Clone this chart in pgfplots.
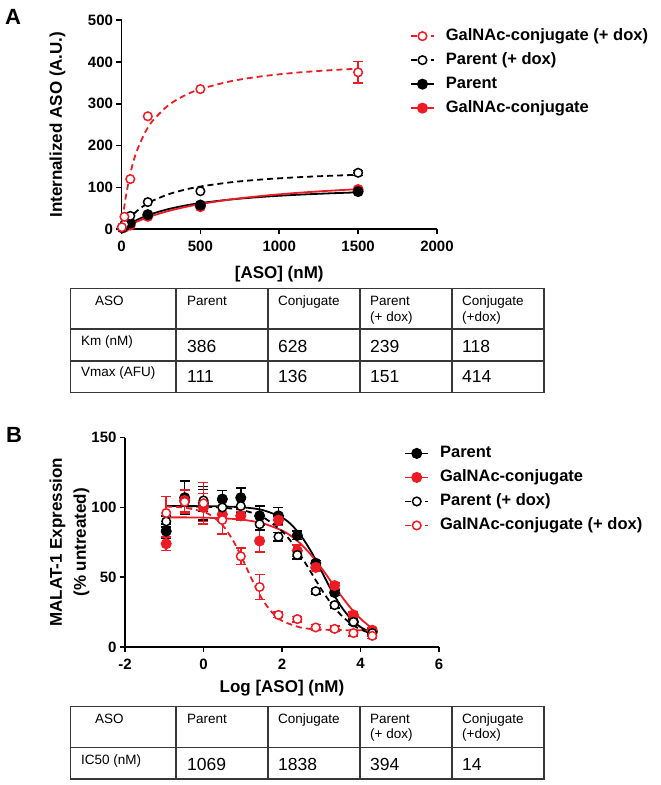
\documentclass[border=0pt]{standalone}
\usepackage{pgfplots}
\pgfplotsset{compat=1.18}
\usepackage{fontspec}
\setmainfont{Liberation Sans}
\definecolor{gred}{RGB}{237,28,36}
\definecolor{tline}{RGB}{55,55,55}
\newcommand{\fs}[1]{\fontsize{#1}{#1}\selectfont}

\pgfplotsset{
  prism/.style={
    scale only axis, anchor=south west,
    axis lines=left,
    axis line style={line width=1.6pt, -},
    every tick/.style={line width=1.6pt, black},
    tick align=outside,
    major tick length=5pt,
    tick label style={font=\fs{15}\bfseries},
    xticklabel style={yshift=-3pt},
    /pgf/number format/assume math mode=true,
    /pgf/number format/set thousands separator={},
    label style={font=\fontsize{17}{24}\selectfont\bfseries},
    enlargelimits=false, clip=false,
    legend style={draw=none, fill=none, anchor=north west, font=\fs{16.5}\bfseries,
      inner sep=0pt, row sep=8pt, column sep=11pt, cells={anchor=west},
      nodes={inner sep=0pt, text height=12pt, text depth=4pt}},
    legend image code/.code={\draw[##1, mark repeat=2, mark phase=2]
      plot coordinates {(0pt,0pt) (11.5pt,0pt) (23pt,0pt)};},
  },
  fil/.style={line width=1.8pt, mark=*, mark size=4.6pt, mark options={solid}},
  opn/.style={line width=1.8pt, dash pattern=on 6pt off 4pt, mark=*, mark size=4.3pt,
    mark options={solid, fill=white, line width=1.5pt}},
  curve/.style={no marks, line width=1.8pt, smooth},
  eb/.style={error bars/y dir=both, error bars/y explicit,
    error bars/error bar style={line width=1.5pt, solid},
    error bars/error mark options={rotate=90, mark size=5pt, line width=1.5pt, solid}},
}

\begin{document}
\begin{tikzpicture}[x=1pt,y=1pt]
\useasboundingbox (0,0) rectangle (661,785);

\node[font=\fs{22}\bfseries] at (13,768) {A};
\node[font=\fs{22}\bfseries] at (14,350) {B};

% ---------------- panel A ----------------
\begin{axis}[prism, at={(121.5pt,555.7pt)}, width=315.5pt, height=209.3pt,
  xmin=0, xmax=2000, ymin=0, ymax=500,
  xtick={0,500,1000,1500,2000}, ytick={0,100,200,300,400,500},
  xlabel={[ASO] (nM)}, ylabel={Internalized ASO (A.U.)},
  xlabel style={at={(axis description cs:0.5,-0.215)}, anchor=center},
  ylabel style={at={(axis description cs:-0.203,0.5)}, anchor=center},
  legend style={at={(axis description cs:0.914,0.962)}},
]
\addlegendimage{gred, opn}\addlegendentry{GalNAc-conjugate (+ dox)}
\addlegendimage{black, opn}\addlegendentry{Parent (+ dox)}
\addlegendimage{black, fil}\addlegendentry{Parent}
\addlegendimage{gred, fil}\addlegendentry{GalNAc-conjugate}

% fitted curves
\addplot[forget plot, curve, gred, dash pattern=on 6pt off 4pt] coordinates {
 (0,0) (10,32.3) (25,72.4) (50,123.2) (75,160.9) (100,189.9) (150,231.7) (200,260.4)
 (300,297.1) (400,319.7) (500,335.0) (700,354.3) (900,366.0) (1100,373.9) (1300,379.5) (1500,383.8)};
\addplot[forget plot, curve, black, dash pattern=on 6pt off 4pt] coordinates {
 (0,0) (25,14.3) (50,26.1) (100,44.5) (150,58.2) (200,68.8) (300,84.0) (400,94.5)
 (500,102.2) (700,112.6) (900,119.3) (1100,124.0) (1300,127.5) (1500,130.2)};
\addplot[forget plot, curve, black] coordinates {
 (0,0) (25,6.8) (50,12.7) (100,22.8) (150,31.1) (200,37.9) (300,48.5) (400,56.5)
 (500,62.6) (700,71.5) (900,77.7) (1100,82.2) (1300,85.6) (1500,88.3)};
\addplot[forget plot, curve, gred] coordinates {
 (0,0) (25,5.2) (50,10.0) (100,18.7) (150,26.2) (200,32.9) (300,44.0) (400,52.9)
 (500,60.3) (700,71.7) (900,80.1) (1100,86.6) (1300,91.7) (1500,95.9)};

% data points
\addplot[forget plot, gred, fil, only marks] coordinates {
 (6,3) (18.5,5) (55.6,10) (166.7,31) (500,54) (1500,95)};
\addplot[forget plot, black, fil, only marks] coordinates {
 (6,4) (18.5,8) (55.6,15) (166.7,35) (500,58) (1500,90)};
\addplot[forget plot, black, opn, only marks, eb] coordinates {
 (1500,135) +- (0,6)};
\addplot[forget plot, black, opn, only marks] coordinates {
 (6,5) (18.5,12) (55.6,32) (166.7,65) (500,91)};
\addplot[forget plot, gred, opn, only marks, eb] coordinates {
 (1500,375) +- (0,26)};
\addplot[forget plot, gred, opn, only marks] coordinates {
 (2,5) (18.5,30) (55.6,120) (166.7,270) (500,335)};
\end{axis}

% ---------------- panel B ----------------
\begin{axis}[prism, at={(125pt,138pt)}, width=314pt, height=209.3pt,
  xmin=-2, xmax=6, ymin=0, ymax=150,
  xtick={-2,0,2,4,6}, ytick={0,50,100,150},
  xlabel={Log [ASO] (nM)}, ylabel={MALAT-1 Expression\\(\% untreated)},
  xlabel style={at={(axis description cs:0.5,-0.196)}, anchor=center},
  ylabel style={at={(axis description cs:-0.177,0.5)}, anchor=center, align=center},
  legend style={at={(axis description cs:0.889,0.964)}},
]
\addlegendimage{black, fil}\addlegendentry{Parent}
\addlegendimage{gred, fil}\addlegendentry{GalNAc-conjugate}
\addlegendimage{black, opn}\addlegendentry{Parent (+ dox)}
\addlegendimage{gred, opn}\addlegendentry{GalNAc-conjugate (+ dox)}

% fitted curves
\addplot[forget plot, curve, black] coordinates {
 (-0.95,101) (-0.5,101) (0,100.9) (0.5,100.7) (1,100.1) (1.5,98.2) (2,92.8) (2.25,87.3)
 (2.5,79.1) (2.75,68.0) (3,54.7) (3.25,41.1) (3.5,29.3) (3.75,20.4) (4,14.3) (4.3,9.9)};
\addplot[forget plot, curve, gred] coordinates {
 (-0.95,92.9) (-0.5,92.9) (0,92.7) (0.5,92.2) (1,91.2) (1.5,88.7) (2,83.5) (2.25,79.2)
 (2.5,73.3) (2.75,65.7) (3,56.8) (3.25,46.9) (3.5,37.0) (3.75,27.9) (4,20.3) (4.3,13.2)};
\addplot[forget plot, curve, black, dash pattern=on 6pt off 4pt] coordinates {
 (-0.95,101) (-0.5,100.8) (0,100.6) (0.5,99.8) (1,98.0) (1.5,93.3) (2,83.0) (2.25,74.8)
 (2.5,64.5) (2.75,53.0) (3,41.5) (3.25,31.2) (3.5,23.0) (3.75,16.9) (4,12.6) (4.3,9.4)};
\addplot[forget plot, curve, gred, dash pattern=on 6pt off 4pt] coordinates {
 (-0.95,100.7) (-0.5,99.9) (0,96.9) (0.25,93.2) (0.5,86.8) (0.75,76.5) (1,62.6) (1.25,47.4)
 (1.5,34.1) (1.75,24.7) (2,18.8) (2.5,13.8) (3,12.5) (3.5,12.1) (4.3,12.0)};

% data points with SEM
\addplot[forget plot, black, fil, only marks, eb] coordinates {
 (-0.95,83) +- (0,5) (-0.48,107) +- (0,12) (0,103) +- (0,12) (0.48,106) +- (0,6)
 (0.95,107) +- (0,7) (1.43,94) +- (0,7) (1.91,94) +- (0,6) (2.39,80) +- (0,3)
 (2.86,60) +- (0,2) (3.34,39) +- (0,2) (3.82,18) +- (0,2) (4.3,11) +- (0,2)};
\addplot[forget plot, gred, fil, only marks, eb] coordinates {
 (-0.95,74) +- (0,5) (-0.48,105) +- (0,8) (0,100) +- (0,10) (0.48,95) +- (0,5)
 (0.95,94) +- (0,3) (1.43,76) +- (0,8) (1.91,91) +- (0,4) (2.39,69) +- (0,4)
 (2.86,57) +- (0,3) (3.34,44) +- (0,2) (3.82,23) +- (0,2) (4.3,12) +- (0,2)};
\addplot[forget plot, black, opn, only marks, eb] coordinates {
 (-0.95,90) +- (0,4) (-0.48,104) +- (0,8) (0,105) +- (0,8) (0.48,100) +- (0,5)
 (0.95,101) +- (0,5) (1.43,88) +- (0,4) (1.91,79) +- (0,3) (2.39,66) +- (0,3)
 (2.86,40) +- (0,2) (3.34,30) +- (0,2) (3.82,18) +- (0,2) (4.3,10) +- (0,2)};
\addplot[forget plot, gred, opn, only marks, eb] coordinates {
 (-0.95,96) +- (0,12) (-0.48,104) +- (0,8) (0,103) +- (0,15) (0.48,91) +- (0,10)
 (0.95,65) +- (0,6) (1.43,43) +- (0,9) (1.91,23) +- (0,2) (2.39,20) +- (0,2)
 (2.86,14) +- (0,2) (3.34,13) +- (0,2) (3.82,10) +- (0,2) (4.3,8) +- (0,2)};
\end{axis}

% ---------------- tables ----------------
\begin{scope}[draw=tline, line width=1.5pt]
\draw (70.7,496.7) rectangle (544,392.7);
\foreach \x in {176,268,360,452} \draw (\x,496.7) -- (\x,392.7);
\draw (70.7,456) -- (544,456);
\draw (70.7,424) -- (544,424);
\draw (70.7,78.3) rectangle (544,6);
\foreach \x in {176,268,360,452} \draw (\x,78.3) -- (\x,6);
\draw (70.7,37.7) -- (544,37.7);
\end{scope}

\begin{scope}[every node/.style={anchor=base west, inner sep=0pt, text=black}]
% table A
\node[font=\fs{13.5}] at (95,479) {ASO};
\node[font=\fs{13.5}] at (187,479) {Parent};
\node[font=\fs{13.5}] at (278,479) {Conjugate};
\node[font=\fs{13.5}] at (370,479) {Parent};
\node[font=\fs{13.5}] at (370,463) {(+ dox)};
\node[font=\fs{13.5}] at (462,479) {Conjugate};
\node[font=\fs{13.5}] at (462,463) {(+dox)};
\node[font=\fs{13.5}] at (81,439.5) {Km (nM)};
\node[font=\fs{13.5}] at (81,408.5) {Vmax (AFU)};
\node[font=\fs{17.5}] at (187,432) {386};
\node[font=\fs{17.5}] at (278,432) {628};
\node[font=\fs{17.5}] at (370,432) {239};
\node[font=\fs{17.5}] at (462,432) {118};
\node[font=\fs{17.5}] at (187,402) {111};
\node[font=\fs{17.5}] at (278,402) {136};
\node[font=\fs{17.5}] at (370,402) {151};
\node[font=\fs{17.5}] at (462,402) {414};
% table B
\node[font=\fs{13.5}] at (95,61.5) {ASO};
\node[font=\fs{13.5}] at (187,61.5) {Parent};
\node[font=\fs{13.5}] at (278,61.5) {Conjugate};
\node[font=\fs{13.5}] at (370,61.5) {Parent};
\node[font=\fs{13.5}] at (370,46) {(+ dox)};
\node[font=\fs{13.5}] at (462,61.5) {Conjugate};
\node[font=\fs{13.5}] at (462,46) {(+dox)};
\node[font=\fs{13.5}] at (81,20.5) {IC50 (nM)};
\node[font=\fs{17.5}] at (187,14.5) {1069};
\node[font=\fs{17.5}] at (278,14.5) {1838};
\node[font=\fs{17.5}] at (370,14.5) {394};
\node[font=\fs{17.5}] at (462,14.5) {14};
\end{scope}
\end{tikzpicture}
\end{document}
